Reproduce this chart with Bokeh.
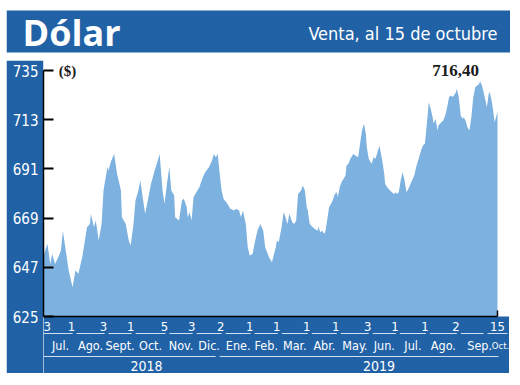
import pandas as pd
from bokeh.plotting import figure
from bokeh.layouts import column, row
from bokeh.models import (Range1d, LinearAxis, FixedTicker, Label, ColumnDataSource,
                          BoxAnnotation, Spacer)
from bokeh.core.properties import value
from bokeh.embed import file_html
from bokeh.resources import INLINE

# ---------------- data ----------------
start_date = "2018-07-03"
# calendar days since start_date
days = [0, 4, 7, 9, 12, 16, 18, 20, 24, 26, 30, 33, 36, 40, 45, 48, 49, 52, 54, 57,
        60, 62, 66, 67, 70, 73, 76, 80, 81, 85, 88, 90, 93, 95, 98, 100, 102, 105, 109,
        111, 114, 117, 120, 123, 125, 128, 130, 132, 135, 136, 140, 143, 145, 148, 149,
        151, 153, 155, 159, 161, 164, 167, 171, 174, 176, 178, 180, 182, 184, 186, 190,
        193, 197, 199, 202, 204, 206, 209, 211, 213, 216, 218, 221, 224, 227, 229, 233,
        236, 240, 241, 243, 246, 248, 250, 252, 254, 257, 259, 261, 263, 266, 268, 270,
        272, 273, 275, 278, 280, 283, 284, 286, 288, 290, 291, 293, 295, 298, 301, 303,
        304, 306, 308, 310, 312, 313, 315, 317, 320, 322, 325, 327, 329, 331, 333, 334,
        336, 339, 341, 343, 345, 347,
        350, 352, 353, 355, 358, 360, 362, 364, 365, 367, 369, 371, 373, 375, 377, 380,
        383, 385, 388, 390, 392, 394, 396, 397, 398, 400, 402, 403, 405, 407, 408, 411,
        413, 415, 417, 419, 421, 423, 426, 427, 429, 431, 433, 434, 436, 438, 440, 442,
        444, 446, 448, 450, 451, 453, 455, 457, 458, 460, 461, 463, 465, 466, 469]
venta = [652.3, 657.5, 648.5, 653.0, 648.5, 652.3, 654.5, 663.4, 651.5, 645.6,
         638.1, 645.6, 644.1, 651.5, 665.0, 666.4, 670.9, 665.0, 667.9, 659.0,
         666.4, 681.3, 691.8, 690.3, 694.7, 697.7, 688.8, 681.3, 669.4, 666.4,
         659.0, 656.7, 666.4, 676.9, 681.3, 685.8, 679.8, 670.9, 679.8,
         684.3, 689.0, 693.3, 697.7, 681.3, 675.4, 685.8, 691.8, 681.3, 679.1,
         669.4, 667.9, 676.9, 677.6, 673.9, 669.4, 671.6, 667.9, 678.4, 681.3,
         682.8, 686.6, 689.5, 691.8, 694.7, 697.7, 696.2, 697.7, 688.8, 681.3,
         677.6, 675.4, 673.2, 672.4, 673.2, 672.4, 669.4, 672.4, 666.4, 656.0,
         652.3, 653.0, 657.5, 663.4, 666.4, 663.4, 656.0, 651.5,
         649.3, 656.0, 659.0, 658.2, 665.0, 671.6, 669.4, 666.4, 670.9, 667.2,
         666.4, 667.9, 679.8, 681.3, 683.6, 681.3, 673.9, 672.4, 666.4, 665.0,
         664.2, 663.4, 665.0, 662.7, 663.4, 662.0, 662.7, 667.9, 673.9, 676.1,
         679.8, 680.6, 678.4, 682.8, 685.1, 686.6, 688.1, 692.5, 693.3, 695.5,
         697.7, 697.0, 696.2, 702.2, 708.2, 711.2, 706.7, 700.7, 695.5, 693.3,
         696.2, 695.5, 698.5, 701.5,
         694.7, 688.8, 684.3, 682.8, 681.3, 680.6, 679.8, 680.6, 679.8, 680.6,
         685.8, 689.5, 685.8, 680.6, 682.1, 685.1, 688.1, 691.8, 696.2, 699.2,
         701.5, 702.2, 711.2, 715.6, 720.8, 717.9, 714.1, 711.2, 713.4, 708.2,
         710.4, 711.9, 712.6, 714.9, 718.6, 723.1, 723.8, 723.1, 725.3, 726.8,
         723.1, 714.9, 713.4, 714.1, 712.6, 709.6, 708.2, 714.1, 723.1, 727.5,
         728.3, 729.0, 730.2, 728.3, 724.6, 720.8, 718.6, 724.6, 725.3, 721.6,
         715.6, 711.9, 716.4]
y_ticks = [625, 647, 669, 691, 713, 735]
mark_dates = ["2018-07-03", "2018-08-01", "2018-09-03", "2018-10-01", "2018-11-05",
              "2018-12-03", "2019-01-02", "2019-02-01", "2019-03-01", "2019-04-01",
              "2019-05-01", "2019-06-03", "2019-07-01", "2019-08-01", "2019-09-02",
              "2019-10-15"]
month_names = ["Jul.", "Ago.", "Sept.", "Oct.", "Nov.", "Dic.", "Ene.", "Feb.", "Mar.",
               "Abr.", "May.", "Jun.", "Jul.", "Ago.", "Sep.", "Oct."]
year_names = ["2018", "2019"]
title_text = "Dólar"
subtitle_text = "Venta, al 15 de octubre"
unit_text = "($)"

# ---------------- style / layout ----------------
BLUE = "#2162a7"
AREA = "#7db2e0"
LINE_LIGHT = "#cfe0f2"
COND = "DejaVu Sans Condensed"
PX_PER_DAY = 0.968
PX_PER_UNIT = 2.2364


def xd(page_x):
    return (page_x - 43) / PX_PER_DAY


def yv(page_y):
    return y_ticks[-1] - (page_y - 70) / PX_PER_UNIT


t0 = pd.Timestamp(start_date)
mark_pos = [(pd.Timestamp(d) - t0).days for d in mark_dates]
day_labels = [str(pd.Timestamp(d).day) for d in mark_dates]

# ---------- header figure (page y 0..60) ----------
hdr = figure(width=504, height=60, output_backend="svg", toolbar_location=None,
             x_range=Range1d(6, 510), y_range=Range1d(60, 0),
             x_axis_type=None, y_axis_type=None,
             min_border=0, min_border_left=0, min_border_right=0,
             min_border_top=0, min_border_bottom=0)
hdr.outline_line_color = None
hdr.xgrid.visible = False
hdr.ygrid.visible = False
hdr.background_fill_color = "white"
hdr.border_fill_color = "white"
hdr.add_layout(BoxAnnotation(top=10, bottom=52, fill_color=BLUE, fill_alpha=1,
                             line_color=None))
hdr.add_layout(Label(x=22, y=32, text=title_text, text_color="white",
                     text_font="Open Sans", text_font_style="bold", text_font_size="36px",
                     text_baseline="middle", text_align="left"))
hdr.add_layout(Label(x=497, y=32.5, text=subtitle_text, text_color="white",
                     text_font=COND, text_font_size="18px",
                     text_baseline="middle", text_align="right"))

# ---------- main figure (page x 6..509, y 60..373) ----------
W, H = 503, 313
x_end = xd(6 + W)
p = figure(width=W, height=H, output_backend="svg", toolbar_location=None,
           x_range=Range1d(0, x_end), y_range=Range1d(yv(60 + H), yv(60)),
           x_axis_type=None, y_axis_type=None,
           min_border_left=37, min_border_right=0, min_border_top=0, min_border_bottom=0)
p.border_fill_color = BLUE
p.background_fill_color = "white"
p.outline_line_color = None
p.xgrid.visible = False
p.ygrid.visible = False

for fig in (hdr, p):
    if "frame_align" in fig.properties():
        fig.frame_align = False

# bottom band
p.add_layout(BoxAnnotation(top=y_ticks[0], fill_color=BLUE, fill_alpha=1,
                           line_color=None, level="underlay"))

src = ColumnDataSource(dict(day=days, venta=venta))
p.varea(x="day", y1=y_ticks[0], y2="venta", source=src, fill_color=AREA)

# x axis line and end tick
p.segment(x0=[0], y0=[y_ticks[0]], x1=[days[-1]], y1=[y_ticks[0]],
          line_color="black", line_width=1.5)
p.segment(x0=[days[-1]], y0=[y_ticks[0]], x1=[days[-1]], y1=[yv(310)],
          line_color="black", line_width=1.5)

# left axis
ax = LinearAxis(ticker=FixedTicker(ticks=y_ticks), bounds=(y_ticks[0], y_ticks[-1]))
ax.major_tick_in = 10
ax.major_tick_out = 0
ax.minor_tick_line_color = None
ax.major_tick_line_width = 2
ax.major_tick_line_color = "black"
ax.axis_line_color = "black"
ax.axis_line_width = 1.5
ax.major_label_text_color = "white"
ax.major_label_text_font = COND
ax.major_label_text_font_size = "15px"
ax.major_label_standoff = 5
p.add_layout(ax, "left")

# day numbers (first one left-aligned so it stays inside the band)
p.text(x=[mark_pos[0]], y=yv(326), text=day_labels[:1], text_align="left",
       text_baseline="middle", text_color="white", text_font=value(COND),
       text_font_size="13px")
p.text(x=mark_pos[1:], y=yv(326), text=day_labels[1:], text_align="center",
       text_baseline="middle", text_color="white", text_font=value(COND),
       text_font_size="13px")
# underline segments for months
seg_x0, seg_x1 = [], []
for i in range(len(mark_pos) - 1):
    a = mark_pos[i] + (5 / PX_PER_DAY if i > 0 else 0)
    if i == len(mark_pos) - 2:
        b = mark_pos[i + 1] - 14 / PX_PER_DAY
    else:
        b = mark_pos[i + 1] + 1 / PX_PER_DAY
    seg_x0.append(a)
    seg_x1.append(b)
seg_x0.append(mark_pos[-1] - 10 / PX_PER_DAY)
seg_x1.append(mark_pos[-1] + 10 / PX_PER_DAY)
p.segment(x0=seg_x0, y0=yv(333), x1=seg_x1, y1=yv(333), line_color=LINE_LIGHT, line_width=1)

# month names
month_x = [(mark_pos[i] + mark_pos[i + 1]) / 2 + 3 / PX_PER_DAY for i in range(len(mark_pos) - 1)]
p.text(x=month_x, y=yv(345), text=month_names[:-1], text_align="center",
       text_baseline="middle", text_color="white", text_font=value(COND),
       text_font_size="12.5px")
p.text(x=[mark_pos[-1] + 3 / PX_PER_DAY], y=yv(345), text=[month_names[-1]],
       text_align="center", text_baseline="middle", text_color="white",
       text_font=value(COND), text_font_size="9.5px")

# year lines and labels
jan = mark_pos[6]
year_x0 = [mark_pos[0] - 6 / PX_PER_DAY, jan - 1 / PX_PER_DAY]
year_x1 = [jan - 5 / PX_PER_DAY, mark_pos[-1] + 1 / PX_PER_DAY]
p.segment(x0=year_x0, y0=yv(356), x1=year_x1, y1=yv(356), line_color=LINE_LIGHT, line_width=1)
year_x = [(a + b) / 2 + 20 / PX_PER_DAY for a, b in zip(year_x0, year_x1)]
p.text(x=year_x, y=yv(365), text=year_names, text_align="center",
       text_baseline="middle", text_color="white", text_font=value(COND),
       text_font_size="14px")

# annotations in plot
p.add_layout(Label(x=xd(67), y=yv(70), text=unit_text, text_color="#1a1a1a",
                   text_font="Liberation Serif", text_font_style="bold", text_font_size="15px",
                   text_baseline="middle", text_align="center"))
last_txt = f"{venta[-1]:.2f}".replace(".", ",")
p.add_layout(Label(x=xd(455), y=yv(70), text=last_txt, text_color="#1a1a1a",
                   text_font="Liberation Serif", text_font_style="bold", text_font_size="17px",
                   text_baseline="middle", text_align="center"))

layout = row(Spacer(width=6, height=373), column(hdr, p, spacing=0), spacing=0)
open("out.html", "w").write(file_html(layout, INLINE))
